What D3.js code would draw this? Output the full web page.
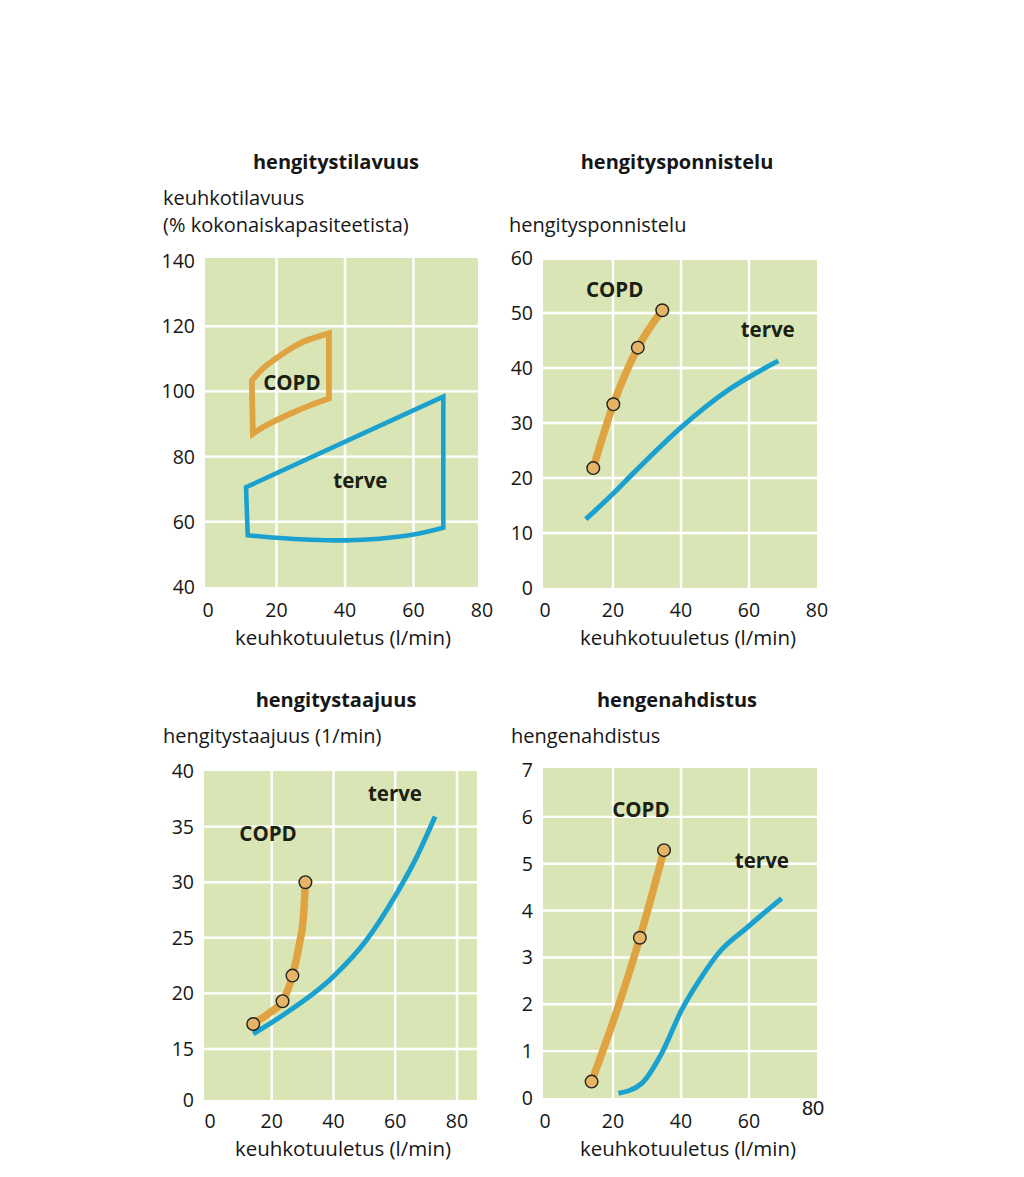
<!DOCTYPE html>
<html><head><meta charset="utf-8">
<script src="https://cdn.jsdelivr.net/npm/d3@7"></script>
<style>body{margin:0;background:#fff}</style>
</head><body>
<svg id="c" width="1024" height="1177"></svg>
<script>
// ---------- DATA ----------
const titles = ["hengitystilavuus", "hengitysponnistelu", "hengitystaajuus", "hengenahdistus"];
const yTitles = [["keuhkotilavuus", "(% kokonaiskapasiteetista)"], ["hengitysponnistelu"], ["hengitystaajuus (1/min)"], ["hengenahdistus"]];
const xTitle = "keuhkotuuletus (l/min)";
const xTicks = [0, 20, 40, 60, 80];
const yTicks1 = [40, 60, 80, 100, 120, 140];
const yTicks2 = [0, 10, 20, 30, 40, 50, 60];
const yTicks3 = [0, 15, 20, 25, 30, 35, 40];
const yTicks4 = [0, 1, 2, 3, 4, 5, 6, 7];

// Panel 1: outlines (edges) of regions
const copdVolEdges = [
  [[13.1, 87], [12.8, 103.3]],
  [[12.8, 103.3], [16, 107], [20, 110.2], [24, 113], [28, 115.3], [35.3, 117.8]],
  [[35.3, 117.8], [35.3, 97.8]],
  [[35.3, 97.8], [30, 95.8], [25, 93.6], [20, 91.2], [16, 89], [13.1, 87]]
];
const terveVolEdges = [
  [[11.6, 55.9], [11.1, 70.6]],
  [[11.1, 70.6], [68.7, 98.4]],
  [[68.7, 98.4], [68.7, 58.2]],
  [[68.7, 58.2], [60, 56.1], [50, 54.8], [40, 54.3], [30, 54.5], [20, 55.1], [11.6, 55.9]]
];
// Panel 2
const copdEffort = [[14.2, 21.8], [20.1, 33.4], [27.3, 43.7], [34.5, 50.5]];
const terveEffort = [[12, 12.5], [19.6, 16.9], [26.5, 21.2], [40.2, 29.3], [53.9, 36], [68.6, 41.3]];
// Panel 3
const copdRateLine = [[14, 17.3], [19, 18.2], [23.5, 19.3], [26.7, 21.6], [29, 24.5], [30.3, 27], [30.9, 30]];
const copdRatePts = [[14, 17.25], [23.5, 19.3], [26.7, 21.6], [30.9, 30]];
const terveRate = [[14, 16.35], [23.7, 18.06], [39.9, 21.5], [50.7, 24.8], [60.5, 29], [67, 32.3], [72.9, 35.9]];
// Panel 4
const copdDysLine = [[13.7, 0.35], [20.6, 1.75], [27.9, 3.42], [35, 5.29]];
const copdDysPts = [[13.7, 0.35], [27.9, 3.42], [35, 5.29]];
const terveDys = [[21.6, 0.1], [28.4, 0.31], [34.3, 0.95], [40.2, 1.88], [46.1, 2.59], [51, 3.09], [59.8, 3.66], [69.6, 4.26]];

// ---------- STYLE ----------
const BG = "#dae5b5", ORANGE = "#e0a342", BLUE = "#1ba1cf", TXT = "#161616";
const FONT = "'Open Sans', 'Noto Sans', sans-serif";

const svg = d3.select("#c");

function panel(p) {
  const g = svg.append("g");
  const x = d3.scaleLinear().domain(p.xDom).range(p.xRange);
  const y = d3.scaleLinear().domain(p.yDom).range(p.yRange);
  g.append("rect").attr("x", p.rect[0]).attr("y", p.rect[1])
    .attr("width", p.rect[2] - p.rect[0]).attr("height", p.rect[3] - p.rect[1]).attr("fill", BG);
  p.xGrid.forEach(v => g.append("line").attr("x1", x(v)).attr("x2", x(v))
    .attr("y1", p.rect[1]).attr("y2", p.rect[3]).attr("stroke", "#fff").attr("stroke-width", 2.4));
  p.yGrid.forEach(v => g.append("line").attr("y1", y(v)).attr("y2", y(v))
    .attr("x1", p.rect[0]).attr("x2", p.rect[2]).attr("stroke", "#fff").attr("stroke-width", 2.4));
  g.selectAll(null).data(p.yTicks).join("text")
    .attr("x", p.rect[0] - 10).attr("y", d => y(d) + 7)
    .attr("text-anchor", "end").attr("font-family", FONT).attr("font-size", 19.5).attr("fill", TXT)
    .text(d => d);
  g.selectAll(null).data(p.xTicksShown).join("text")
    .attr("x", d => x(d)).attr("y", p.xTickY)
    .attr("text-anchor", "middle").attr("font-family", FONT).attr("font-size", 19.5).attr("fill", TXT)
    .text(d => d);
  g.append("text").attr("x", p.titleX).attr("y", p.titleY).attr("text-anchor", "middle")
    .attr("font-family", FONT).attr("font-weight", "bold").attr("font-size", 20).attr("fill", TXT).text(p.title);
  p.yTitle.forEach((t, i) => g.append("text").attr("x", p.yTitleX).attr("y", p.yTitleY + i * 27)
    .attr("font-family", FONT).attr("font-size", 20).attr("fill", TXT).text(t));
  g.append("text").attr("x", p.xTitleX).attr("y", p.xTitleY).attr("text-anchor", "middle")
    .attr("font-family", FONT).attr("font-size", 20.5).attr("fill", TXT).text(xTitle);
  return {g, x, y};
}

function edgesPath(edges, x, y) {
  const ln = d3.line().x(d => x(d[0])).y(d => y(d[1])).curve(d3.curveCatmullRom);
  return edges.map((e, i) => { const s = ln(e); return i === 0 ? s : s.replace(/^M/, "L"); }).join("") + "Z";
}
function curve(g, data, x, y, color, w) {
  g.append("path").attr("d", d3.line().x(d => x(d[0])).y(d => y(d[1])).curve(d3.curveMonotoneX)(data))
    .attr("fill", "none").attr("stroke", color).attr("stroke-width", w).attr("stroke-linecap", "butt");
}
function dots(g, data, x, y) {
  g.selectAll(null).data(data).join("circle").attr("cx", d => x(d[0])).attr("cy", d => y(d[1])).attr("r", 6.3)
    .attr("fill", "#e6b466").attr("stroke", "#222").attr("stroke-width", 1.4);
}
function label(g, t, px, py) {
  g.append("text").attr("x", px).attr("y", py).attr("text-anchor", "middle").attr("font-family", FONT)
    .attr("font-weight", "bold").attr("font-size", 20.5).attr("fill", "#1b2013").text(t);
}

// Panel 1
{
  const {g, x, y} = panel({xDom: [0, 80], xRange: [208, 482], yDom: [40, 140], yRange: [587, 261],
    rect: [205, 258, 478, 587], xGrid: [20, 40, 60], yGrid: [60, 80, 100, 120],
    yTicks: yTicks1, xTicksShown: xTicks, xTickY: 617,
    title: titles[0], titleX: 336, titleY: 169, yTitle: yTitles[0], yTitleX: 163, yTitleY: 205,
    xTitleX: 343, xTitleY: 645});
  g.append("path").attr("d", edgesPath(terveVolEdges, x, y)).attr("fill", "none").attr("stroke", BLUE)
    .attr("stroke-width", 4.6).attr("stroke-linejoin", "miter");
  g.append("path").attr("d", edgesPath(copdVolEdges, x, y)).attr("fill", "none").attr("stroke", ORANGE)
    .attr("stroke-width", 5.8).attr("stroke-linejoin", "miter");
  label(g, "COPD", x(24.5), y(100.3));
  label(g, "terve", x(44.5), y(70.3));
}
// Panel 2
{
  const {g, x, y} = panel({xDom: [0, 80], xRange: [545, 817], yDom: [0, 60], yRange: [588, 258],
    rect: [543, 260, 817, 588], xGrid: [20, 40, 60], yGrid: [10, 20, 30, 40, 50],
    yTicks: yTicks2, xTicksShown: xTicks, xTickY: 617,
    title: titles[1], titleX: 677, titleY: 169, yTitle: yTitles[1], yTitleX: 509, yTitleY: 232,
    xTitleX: 688, xTitleY: 645});
  curve(g, terveEffort, x, y, BLUE, 5);
  curve(g, copdEffort, x, y, ORANGE, 7.5);
  dots(g, copdEffort, x, y);
  label(g, "COPD", x(20.5), y(52.9));
  label(g, "terve", x(65.5), y(45.6));
}
// Panel 3 (broken y axis: 0 then 15..40)
{
  const {g, x, y} = panel({xDom: [0, 80], xRange: [210, 457], yDom: [0, 15, 40], yRange: [1100, 1049, 771],
    rect: [204, 771, 477, 1100], xGrid: [20, 40, 60, 80], yGrid: [15, 20, 25, 30, 35],
    yTicks: yTicks3, xTicksShown: xTicks, xTickY: 1128,
    title: titles[2], titleX: 336, titleY: 707, yTitle: yTitles[2], yTitleX: 163, yTitleY: 743,
    xTitleX: 343, xTitleY: 1156});
  curve(g, terveRate, x, y, BLUE, 5);
  curve(g, copdRateLine, x, y, ORANGE, 7.5);
  dots(g, copdRatePts, x, y);
  label(g, "COPD", x(18.8), y(33.7));
  label(g, "terve", x(59.9), y(37.3));
}
// Panel 4
{
  const {g, x, y} = panel({xDom: [0, 80], xRange: [545, 817], yDom: [0, 7], yRange: [1098, 770],
    rect: [543, 768, 817, 1098], xGrid: [20, 40, 60], yGrid: [1, 2, 3, 4, 5, 6],
    yTicks: yTicks4, xTicksShown: xTicks.slice(0, 4), xTickY: 1128,
    title: titles[3], titleX: 677, titleY: 707, yTitle: yTitles[3], yTitleX: 511, yTitleY: 743,
    xTitleX: 688, xTitleY: 1156});
  curve(g, terveDys, x, y, BLUE, 5);
  curve(g, copdDysLine, x, y, ORANGE, 7.5);
  dots(g, copdDysPts, x, y);
  label(g, "COPD", x(28.2), y(6.0));
  label(g, "terve", x(63.8), y(4.9));
  g.append("text").attr("x", 813).attr("y", 1115).attr("text-anchor", "middle")
    .attr("font-family", "'Liberation Sans', Arial, sans-serif").attr("font-size", 20).attr("fill", TXT).text(xTicks[4]);
}
</script>
</body></html>
